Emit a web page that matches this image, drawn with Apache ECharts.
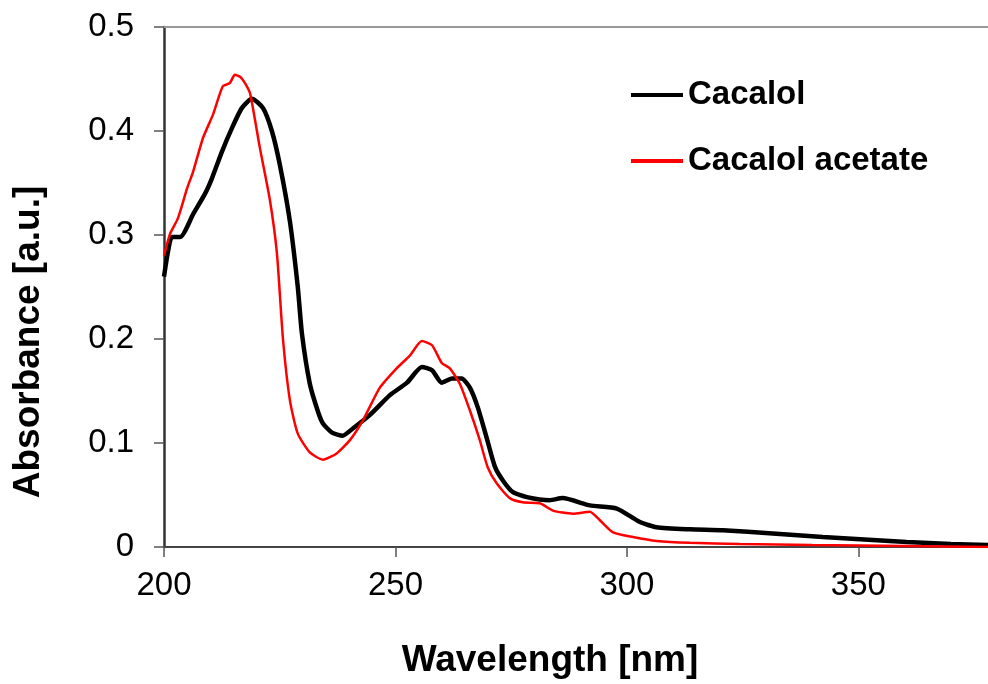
<!DOCTYPE html>
<html>
<head>
<meta charset="utf-8">
<script src="https://cdn.jsdelivr.net/npm/echarts@6/dist/echarts.min.js"></script>
<style>
  html, body { margin: 0; padding: 0; background: #fff; }
  #chart { width: 988px; height: 684px; }
</style>
</head>
<body>
<div id="chart"></div>
<script>
// wavelength [nm] / absorbance
const cacalolWl = [200, 200.9, 201.7, 203.5, 206.3, 208.9, 210.4, 212.5, 214.7, 216.8, 219, 221.4, 223.3, 225,
  227.2, 228.9, 229.8, 231.5, 233.2, 234.3, 236.3, 238.6, 240.8, 244.5, 248.8, 252.5, 255.7, 257.9, 260,
  262.2, 264.3, 266.1, 267.8, 269.7, 271.5, 273.2, 275.3, 278.4, 283.3, 286.1, 292, 297.8, 302.8, 306.4,
  313.6, 320.7, 331.5, 342.3, 353.1, 360.4, 370, 378]
const cacalolAbs = [0.26, 0.285, 0.298, 0.298, 0.32, 0.34, 0.355, 0.38, 0.403, 0.422, 0.431, 0.422, 0.4, 0.368,
  0.313, 0.25, 0.205, 0.157, 0.131, 0.119, 0.11, 0.107, 0.114, 0.127, 0.146, 0.158, 0.173, 0.17, 0.158,
  0.162, 0.162, 0.153, 0.134, 0.105, 0.077, 0.064, 0.053, 0.048, 0.045, 0.047, 0.04, 0.037, 0.024, 0.019,
  0.017, 0.016, 0.013, 0.0096, 0.0067, 0.0048, 0.003, 0.002]

const acetateWl = [200, 201.3, 203, 205, 206.3, 208.4, 210.6, 212.7, 214.2, 215.3, 216.5, 217.5, 218.6, 220.7,
  222.9, 224.4, 225.7, 227.2, 228.9, 231.5, 234.3, 237.3, 240.2, 243, 246.6, 250.3, 253.1, 255.7, 257.9,
  260, 261.7, 263.9, 266.1, 268.2, 269.9, 271.9, 274.7, 277.5, 281.2, 284, 288.3, 292, 294.1, 297, 301.3,
  306.4, 313.6, 324.4, 340, 360, 378]
const acetateAbs = [0.28, 0.301, 0.316, 0.345, 0.361, 0.393, 0.416, 0.443, 0.446, 0.454, 0.452, 0.446, 0.436, 0.384,
  0.333, 0.282, 0.2, 0.141, 0.109, 0.091, 0.084, 0.09, 0.103, 0.122, 0.153, 0.172, 0.184, 0.198, 0.194,
  0.177, 0.172, 0.157, 0.131, 0.103, 0.077, 0.061, 0.047, 0.043, 0.042, 0.035, 0.032, 0.034, 0.026, 0.014, 0.0096,
  0.0058, 0.004, 0.003, 0.002, 0.001, 0]

const pairs = (xs, ys) => xs.map((x, i) => [x, ys[i]])

const chart = echarts.init(document.getElementById('chart'))
const font = 'Liberation Sans, Arial, sans-serif'

chart.setOption({
  animation: false,
  grid: {
    left: 164,
    right: 0,
    top: 27,
    bottom: 137
  },
  legend: {
    orient: 'vertical',
    left: 626,
    top: 72,
    icon: 'rect',
    itemWidth: 52,
    itemHeight: 4,
    itemGap: 30,
    textStyle: { fontFamily: font, fontSize: 33, fontWeight: 'bold', color: '#000', lineHeight: 36 },
    data: ['Cacalol', 'Cacalol acetate']
  },
  graphic: [
    {
      type: 'text',
      x: 29,
      y: 342,
      rotation: Math.PI / 2,
      style: {
        text: 'Absorbance [a.u.]',
        font: 'bold 37px ' + font,
        fill: '#000',
        align: 'center',
        verticalAlign: 'middle'
      }
    },
    {
      type: 'text',
      x: 550,
      y: 661,
      style: {
        text: 'Wavelength [nm]',
        font: 'bold 37px ' + font,
        fill: '#000',
        align: 'center',
        verticalAlign: 'middle'
      }
    }
  ],
  xAxis: [
    {
      type: 'value',
      min: 200,
      max: 378,
      interval: 50,
      axisLine: { lineStyle: { color: '#444', width: 2 } },
      axisTick: { length: 10, lineStyle: { color: '#555', width: 1.5 } },
      axisLabel: { fontFamily: font, fontSize: 33, color: '#000', margin: 22, showMaxLabel: false },
      splitLine: { show: false }
    },
    {
      type: 'value',
      position: 'top',
      min: 200,
      max: 378,
      axisLine: { show: true, lineStyle: { color: '#999', width: 2 } },
      axisTick: { show: false },
      axisLabel: { show: false },
      splitLine: { show: false }
    }
  ],
  yAxis: {
    type: 'value',
    min: 0,
    max: 0.5,
    interval: 0.1,
    axisLine: { show: true, lineStyle: { color: '#333', width: 2.5 } },
    axisTick: { show: true, length: 10, lineStyle: { color: '#555', width: 1.5 } },
    axisLabel: { fontFamily: font, fontSize: 33, color: '#000', margin: 30 },
    splitLine: { show: false }
  },
  series: [
    {
      name: 'Cacalol',
      type: 'line',
      symbol: 'none',
      smooth: 0.2,
      color: '#000',
      lineStyle: { color: '#000', width: 4.5 },
      data: pairs(cacalolWl, cacalolAbs)
    },
    {
      name: 'Cacalol acetate',
      type: 'line',
      symbol: 'none',
      smooth: 0.2,
      color: '#f00',
      lineStyle: { color: '#f00', width: 2.5 },
      data: pairs(acetateWl, acetateAbs)
    }
  ]
})
</script>
</body>
</html>
